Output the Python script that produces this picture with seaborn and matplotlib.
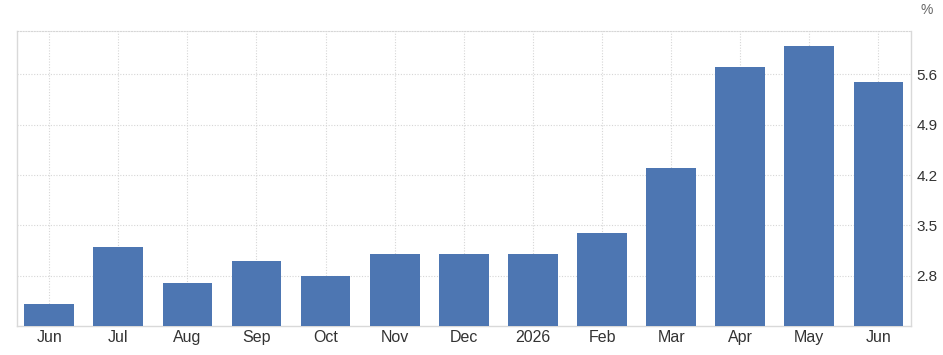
import matplotlib
matplotlib.use("Agg")
import matplotlib.pyplot as plt
import seaborn as sns
import pandas as pd

periods = ["2025-06", "2025-07", "2025-08", "2025-09", "2025-10", "2025-11", "2025-12",
           "2026-01", "2026-02", "2026-03", "2026-04", "2026-05", "2026-06"]
tick_labels = ["Jun", "Jul", "Aug", "Sep", "Oct", "Nov", "Dec", "2026",
               "Feb", "Mar", "Apr", "May", "Jun"]
values = [2.4, 3.2, 2.7, 3.0, 2.8, 3.1, 3.1, 3.1, 3.4, 4.3, 5.7, 6.0, 5.5]
y_ticks = [2.8, 3.5, 4.2, 4.9, 5.6]

df = pd.DataFrame({"period": periods, "value": values})

sns.set_style("white")
plt.rcParams["font.family"] = ["Liberation Sans", "DejaVu Sans"]

fig = plt.figure(figsize=(9.43, 3.55), dpi=100)
ax = fig.add_axes([0.0177, 0.0817, 0.9483, 0.8323])

sns.barplot(data=df, x="period", y="value", order=periods, color="#4d76b2",
            saturation=1, width=0.72, linewidth=0, edgecolor="none", ax=ax, zorder=3)

ax.set_xlim(-0.47, 12.47)
ax.set_ylim(2.1, 6.21)
ax.set_xticks(range(len(tick_labels)))
ax.set_xticklabels(tick_labels)
ax.set_yticks(y_ticks)
ax.set_yticklabels([f"{v:.1f}" for v in y_ticks])
ax.yaxis.tick_right()
ax.set_xlabel("")
ax.set_ylabel("")

ax.tick_params(axis="x", length=0, pad=3, labelsize=11.5, labelcolor="#333333")
ax.tick_params(axis="y", length=0, pad=4, labelsize=11, labelcolor="#333333")

ax.grid(True, axis="both", linestyle=(0, (1, 1.5)), color="#d6d6d6", linewidth=0.8, zorder=0)
ax.set_axisbelow(True)

for side in ["left", "right", "bottom"]:
    ax.spines[side].set_visible(True)
    ax.spines[side].set_color("#d9d9d9")
    ax.spines[side].set_linewidth(1)
ax.spines["top"].set_visible(True)
ax.spines["top"].set_color("#d6d6d6")
ax.spines["top"].set_linestyle((0, (1, 1.5)))
ax.spines["top"].set_linewidth(0.8)

fig.text(927 / 943, 1 - 10 / 355, "%", ha="center", va="center", fontsize=10, color="#666666")

fig.savefig("out.png", dpi=100)
